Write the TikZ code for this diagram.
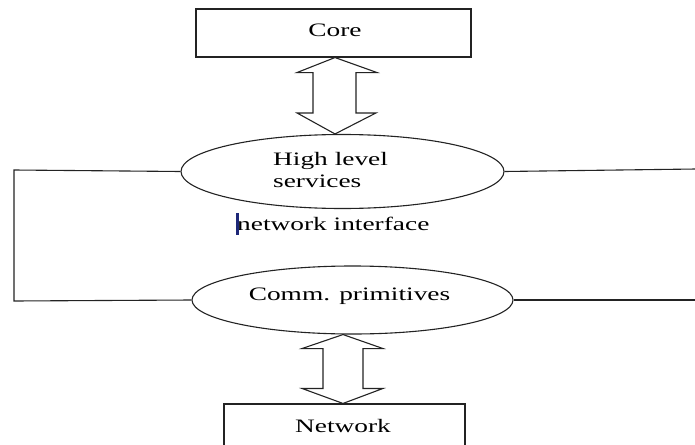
\documentclass[tikz,border=0pt]{standalone}
\usepackage{fontspec}
\setmainfont{Liberation Serif}
\usepackage{graphicx}
\usetikzlibrary{shapes.geometric,calc}
\newcommand\wtxt[1]{\scalebox{1.44}[1]{#1}}
\definecolor{lincol}{RGB}{35,35,35}
\definecolor{curs}{RGB}{30,40,120}
\tikzset{
  lbl/.style={inner sep=0pt, font=\fontsize{19}{22}\selectfont, text=black},
  boxnode/.style={draw=lincol, line width=1.1pt, rectangle, inner sep=0pt},
  ellnode/.style={draw=lincol, line width=1.1pt, ellipse, inner sep=0pt},
  conn/.style={draw=lincol, line width=1.1pt},
  dblarrow/.style={draw=lincol, line width=1.1pt, line join=miter, fill=white}
}
\begin{document}
\begin{tikzpicture}[x=1pt,y=-1pt]
\useasboundingbox (0,0) rectangle (695,444);
\clip (0,0) rectangle (695,444);
% boxes
\node[boxnode, minimum width=275pt, minimum height=48pt] (core) at (333.5,33) {};
\node[boxnode, minimum width=241pt, minimum height=70pt] (net) at (344.5,439) {};
% ellipses
\node[ellnode, minimum width=323pt, minimum height=74pt] (hl) at (342.5,171.5) {};
\node[ellnode, minimum width=321pt, minimum height=68pt] (comm) at (352.5,300) {};
% texts
\node[lbl, anchor=base] (coretxt) at (335,37) {\wtxt{Core}};
\node[lbl, anchor=base west] (hl1) at (273,165) {\wtxt{High level}};
\node[lbl, anchor=base west] (hl2) at (273,187) {\wtxt{services}};
\node[lbl, anchor=base west] (ni) at (237,230) {\wtxt{network interface}};
\node[lbl, anchor=base] (commtxt) at (349.5,300) {\wtxt{Comm. primitives}};
\node[lbl, anchor=base] (nettxt) at (343,432) {\wtxt{Network}};
% cursor bar
\fill[curs] (236,213) rectangle (238.5,235);
% side connectors
\coordinate (lt) at (14,170);
\coordinate (lb) at (14,301);
\coordinate (rt) at (696,169);
\coordinate (rb) at (696,300);
\draw[conn] (hl.west) -- (lt) -- (lb) -- (comm.west);
\draw[conn] (hl.east) -- (rt);
\draw[conn] (comm.east) -- (rb);
% double arrows
\coordinate (t1) at ($(core.south)+(1.5,0)$);
\coordinate (t2) at (t1 |- hl.north);
\draw[dblarrow] (t1) -- ++(-38,15) -- ++(16,0) -- ($(t2)+(-22,-21)$) -- ++(-16,0) -- (t2)
  -- ++(41,-21) -- ++(-20,0) -- ($(t1)+(21,15)$) -- ++(21,0) -- cycle;
\coordinate (b1) at ($(net.north)+(-1.5,0)$);
\coordinate (b2) at (b1 |- comm.south);
\draw[dblarrow] (b2) -- ++(-41,14) -- ++(21,0) -- ($(b1)+(-20,-15)$) -- ++(-21,0) -- (b1)
  -- ++(40,-15) -- ++(-20,0) -- ($(b2)+(20,14)$) -- ++(20,0) -- cycle;
\end{tikzpicture}
\end{document}
